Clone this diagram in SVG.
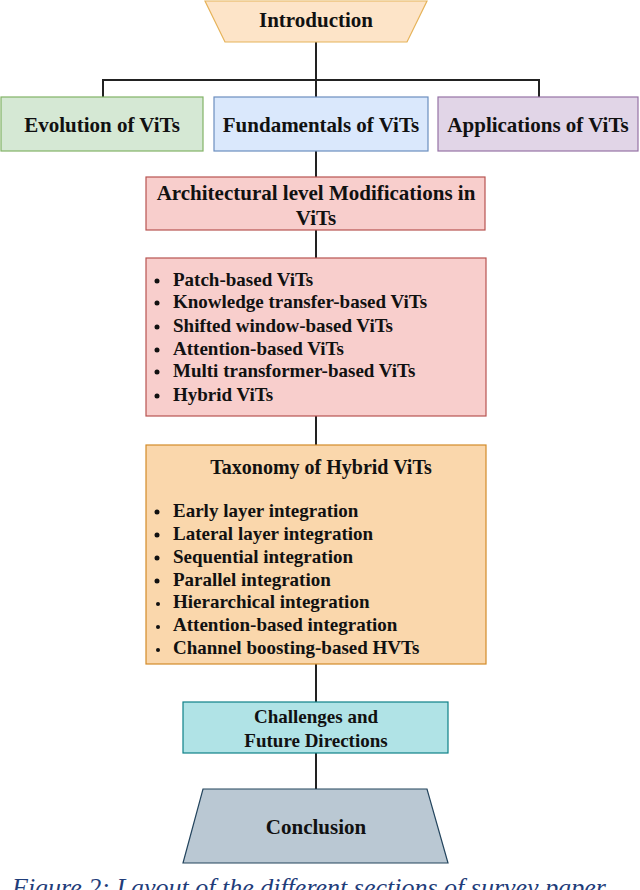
<svg xmlns="http://www.w3.org/2000/svg" width="640" height="890" viewBox="0 0 640 890">
<style>
.t{font-family:"Liberation Serif","Times New Roman",serif;font-weight:bold;fill:#111;}
.h{font-size:21px;text-anchor:middle;}
.i{font-size:19px;}
.b{fill:#111;}
.c{stroke:#222;stroke-width:2;fill:none;}
</style>
<rect width="640" height="890" fill="#fff"/>
<g id="connectors">
<path class="c" d="M316 42V80M103 97V80H539V97M316 80V97M316 151V177M316 230V258M316 416V445M316 664V702M316 753V789"/>
</g>
<g id="introduction">
<polygon points="205,1 427,1 407,42 225,42" fill="#fde4c8" stroke="#e6b35a" stroke-width="1.2"/>
<text class="t h" x="316" y="27">Introduction</text>
</g>
<g id="evolution">
<rect x="1" y="97" width="202" height="54" fill="#d5e8d4" stroke="#82b366" stroke-width="1.2"/>
<text class="t h" x="102" y="132">Evolution of ViTs</text>
</g>
<g id="fundamentals">
<rect x="214" y="97" width="214" height="54" fill="#dae8fc" stroke="#6c8ebf" stroke-width="1.2"/>
<text class="t h" x="321" y="132">Fundamentals of ViTs</text>
</g>
<g id="applications">
<rect x="438" y="97" width="200" height="54" fill="#e1d5e7" stroke="#9673a6" stroke-width="1.2"/>
<text class="t h" x="538" y="132">Applications of ViTs</text>
</g>
<g id="architectural">
<rect x="146" y="177" width="339" height="53" fill="#f8cecc" stroke="#b85450" stroke-width="1.2"/>
<text class="t h" x="316" y="200">Architectural level Modifications in</text>
<text class="t h" x="316" y="225">ViTs</text>
</g>
<g id="variants">
<rect x="146" y="258" width="340" height="158" fill="#f8cecc" stroke="#b85450" stroke-width="1.2"/>
<g class="b">
<circle cx="157" cy="281" r="2.5"/><circle cx="157" cy="303" r="2.5"/><circle cx="157" cy="327" r="2.5"/>
<circle cx="157" cy="350" r="2.5"/><circle cx="157" cy="372" r="2.5"/><circle cx="157" cy="396" r="2.5"/>
</g>
<text class="t i" x="173" y="286">Patch-based ViTs</text>
<text class="t i" x="173" y="308">Knowledge transfer-based ViTs</text>
<text class="t i" x="173" y="332">Shifted window-based ViTs</text>
<text class="t i" x="173" y="355">Attention-based ViTs</text>
<text class="t i" x="173" y="377">Multi transformer-based ViTs</text>
<text class="t i" x="173" y="401">Hybrid ViTs</text>
</g>
<g id="taxonomy">
<rect x="146" y="445" width="340" height="219" fill="#fad7ac" stroke="#d38b28" stroke-width="1.2"/>
<text class="t" x="321" y="474" font-size="20" text-anchor="middle">Taxonomy of Hybrid ViTs</text>
<g class="b">
<circle cx="157" cy="512" r="2.5"/><circle cx="157" cy="535" r="2.5"/><circle cx="157" cy="558" r="2.5"/>
<circle cx="157" cy="581" r="2.5"/><circle cx="158" cy="604" r="2"/><circle cx="158" cy="627" r="2"/>
<circle cx="158" cy="650" r="2"/>
</g>
<text class="t i" x="173" y="517">Early layer integration</text>
<text class="t i" x="173" y="540">Lateral layer integration</text>
<text class="t i" x="173" y="563">Sequential integration</text>
<text class="t i" x="173" y="586">Parallel integration</text>
<text class="t i" x="173" y="608">Hierarchical integration</text>
<text class="t i" x="173" y="631">Attention-based integration</text>
<text class="t i" x="173" y="654">Channel boosting-based HVTs</text>
</g>
<g id="challenges">
<rect x="183" y="702" width="265" height="51" fill="#b0e3e6" stroke="#0e8088" stroke-width="1.2"/>
<text class="t i" x="316" y="723" text-anchor="middle">Challenges and</text>
<text class="t i" x="316" y="747" text-anchor="middle">Future Directions</text>
</g>
<g id="conclusion">
<polygon points="203,789 427,789 448,863 183,863" fill="#bac8d3" stroke="#23445d" stroke-width="1.2"/>
<text class="t h" x="316" y="834">Conclusion</text>
</g>
<text x="12" y="896" font-family="Liberation Serif,serif" font-style="italic" font-size="26" fill="#1f3d7a">Figure 2: Layout of the different sections of survey paper</text>
</svg>
